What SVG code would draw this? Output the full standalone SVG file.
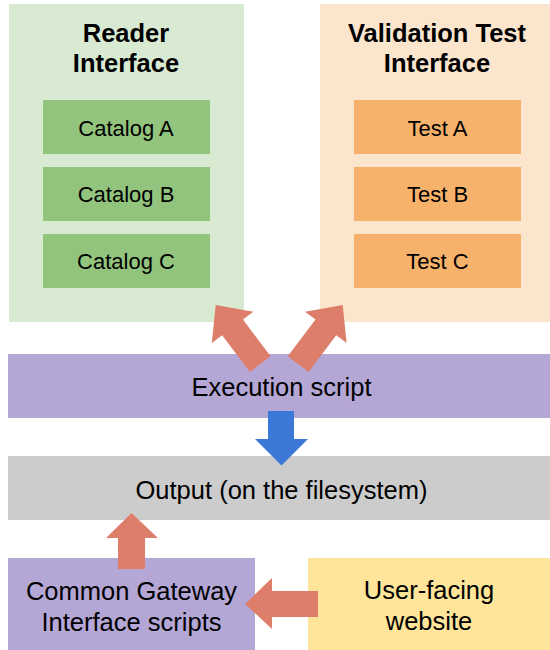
<svg xmlns="http://www.w3.org/2000/svg" width="550" height="650" viewBox="0 0 550 650">
<style>
text{font-family:"Liberation Sans",Arial,sans-serif;fill:#000;text-anchor:middle}
.t{font-size:25.5px;font-weight:bold}
.s{font-size:22px}
.m{font-size:25.5px}
.arr{fill:#dd7e6b}
</style>
<defs>
<polygon id="diag" points="0,0 28,-26 28,-13 74,-13 74,13 28,13 28,26"/>
</defs>
<rect width="550" height="650" fill="#fff"/>
<g id="reader">
<rect x="9" y="4" width="235" height="318" fill="#d9ead3"/>
<text class="t" x="126" y="42.3">Reader</text>
<text class="t" x="126" y="72.3">Interface</text>
</g>
<g id="catalogA"><rect x="43" y="100" width="167" height="54" fill="#93c47d"/><text class="s" x="126" y="135.5">Catalog A</text></g>
<g id="catalogB"><rect x="43" y="167" width="167" height="54" fill="#93c47d"/><text class="s" x="126" y="202">Catalog B</text></g>
<g id="catalogC"><rect x="43" y="234" width="167" height="54" fill="#93c47d"/><text class="s" x="126" y="269">Catalog C</text></g>
<g id="validation">
<rect x="320" y="4" width="230" height="318" fill="#fce5cd"/>
<text class="t" x="437" y="42.3">Validation Test</text>
<text class="t" x="437" y="72.3">Interface</text>
</g>
<g id="testA"><rect x="354" y="100" width="167" height="54" fill="#f6b26b"/><text class="s" x="437.5" y="135.5">Test A</text></g>
<g id="testB"><rect x="354" y="167" width="167" height="54" fill="#f6b26b"/><text class="s" x="437.5" y="202">Test B</text></g>
<g id="testC"><rect x="354" y="234" width="167" height="54" fill="#f6b26b"/><text class="s" x="437.5" y="269">Test C</text></g>
<g id="execution"><rect x="8" y="354" width="542" height="64" fill="#b4a7d6"/><text class="m" x="281.5" y="396">Execution script</text></g>
<g id="output"><rect x="8" y="456" width="542" height="64" fill="#cccccc"/><text class="m" x="281.5" y="499">Output (on the filesystem)</text></g>
<g id="cgi"><rect x="8" y="558" width="247" height="92" fill="#b4a7d6"/><text class="m" x="131.5" y="600">Common Gateway</text><text class="m" x="131.5" y="631">Interface scripts</text></g>
<g id="website"><rect x="308" y="558" width="242" height="92" fill="#ffe599"/><text class="m" x="429" y="599">User-facing</text><text class="m" x="429" y="630">website</text></g>
<g id="connectors">
<use href="#diag" class="arr" transform="translate(215.7,305) rotate(53)"/>
<use href="#diag" class="arr" transform="translate(342.7,305) rotate(127)"/>
<polygon fill="#3c78d8" points="268,411 294,411 294,439 308,439 281.5,465.5 255,439 268,439"/>
<polygon class="arr" points="118,569 145,569 145,538 158,538 131.5,513 106,538 118,538"/>
<polygon class="arr" points="318,591 318,617 272,617 272,629 245,604 272,578 272,591"/>
</g>
</svg>
